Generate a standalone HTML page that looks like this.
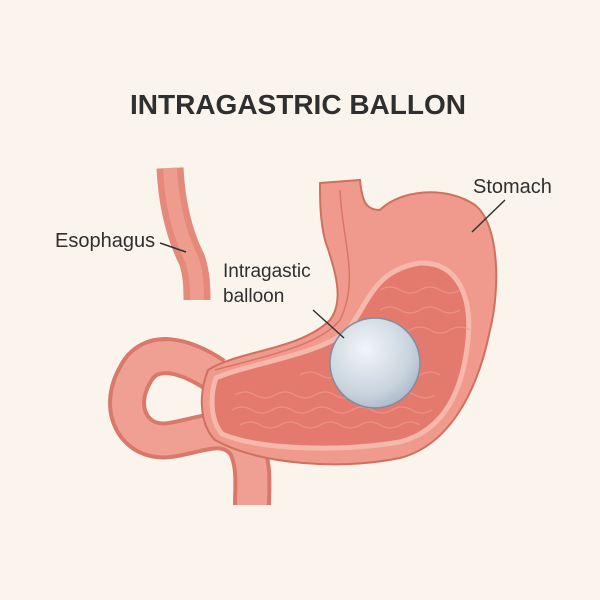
<!DOCTYPE html>
<html><head><meta charset="utf-8"><style>
html,body{margin:0;padding:0;background:#fbf4ec;}
svg{display:block}
text{font-family:"Liberation Sans",sans-serif;fill:#2f2f2f}
</style></head><body>
<svg width="600" height="600" viewBox="0 0 600 600">
<rect width="600" height="600" fill="#fbf4ec"/>
<text x="298" y="114" text-anchor="middle" font-size="28" font-weight="bold" fill="#3a3a3a">INTRAGASTRIC BALLON</text>
<defs>
<radialGradient id="bal" cx="0.4" cy="0.35" r="0.7"><stop offset="0" stop-color="#f2f5f8"/><stop offset="0.7" stop-color="#c9d4de"/><stop offset="1" stop-color="#a9b7c5"/></radialGradient>
</defs>
<!-- esophagus left -->
<path d="M170 168 C172 210 182 240 192 260 C197 275 197 290 197 300" fill="none" stroke="#e5897b" stroke-width="27"/>
<path d="M170 168 C172 210 182 240 192 260 C197 275 197 290 197 300" fill="none" stroke="#ee9c8e" stroke-width="14"/>
<!-- intestine -->
<path d="M215 375 C185 355 150 345 135 375 C115 410 135 445 170 440 C200 436 225 420 245 445 C255 465 252 485 252 505" fill="none" stroke="#d9786b" stroke-width="38"/>
<path d="M215 375 C185 355 150 345 135 375 C115 410 135 445 170 440 C200 436 225 420 245 445 C255 465 252 485 252 505" fill="none" stroke="#f0a092" stroke-width="30"/>
<!-- stomach body -->
<path d="M320 183 L360 180 C362 200 365 210 380 210 C400 190 445 185 475 205 C500 225 500 290 490 330 C478 390 450 445 400 458 C340 470 260 465 215 440 C200 425 198 395 208 370 C240 350 300 350 330 320 C345 300 335 270 325 240 C320 220 320 200 320 183 Z" fill="#ef9a8c" stroke="#d0705f" stroke-width="2"/>
<!-- cavity -->
<path d="M216 378 C250 363 320 355 348 330 C370 300 375 270 420 263 C460 262 472 300 468 340 C463 390 445 430 400 442 C340 452 260 450 222 434 C210 420 210 395 216 378 Z" fill="#e47a6e" stroke="#f6b8ab" stroke-width="5"/>
<g fill="none" stroke="#f09889" stroke-width="1.3" opacity="0.8">
<path d="M235 395 q10 -6 20 0 t20 0 t20 0 t20 0 t20 0 t20 0 t20 0 t20 0 t20 0 t20 0"/>
<path d="M232 410 q10 -6 20 0 t20 0 t20 0 t20 0 t20 0 t20 0 t20 0 t20 0 t20 0 t20 0"/>
<path d="M240 425 q10 -6 20 0 t20 0 t20 0 t20 0 t20 0 t20 0 t20 0 t20 0 t20 0"/>
<path d="M380 290 q10 -6 20 0 t20 0 t20 0 t20 0"/>
<path d="M380 310 q10 -6 20 0 t20 0 t20 0 t20 0"/>
<path d="M370 330 q10 -6 20 0 t20 0 t20 0 t20 0 t20 0"/>
<path d="M300 375 q10 -6 20 0 t20 0 t20 0 t20 0 t20 0 t20 0 t20 0"/>
</g>
<path d="M340 190 C342 240 360 280 340 320 C320 345 270 355 215 370" fill="none" stroke="#d77667" stroke-width="1.5"/>
<!-- balloon -->
<circle cx="375" cy="363" r="45" fill="url(#bal)" stroke="#7d8ea0" stroke-width="1.5"/>
<!-- labels -->
<text x="55" y="247" font-size="20">Esophagus</text>
<path d="M160 243 L186 252" stroke="#333" stroke-width="1.5"/>
<text x="473" y="193" font-size="20">Stomach</text>
<path d="M505 200 L472 232" stroke="#333" stroke-width="1.5"/>
<text x="223" y="277" font-size="19">Intragastic</text>
<text x="223" y="302" font-size="19">balloon</text>
<path d="M313 310 L344 338" stroke="#333" stroke-width="1.5"/>
</svg>
</body></html>
